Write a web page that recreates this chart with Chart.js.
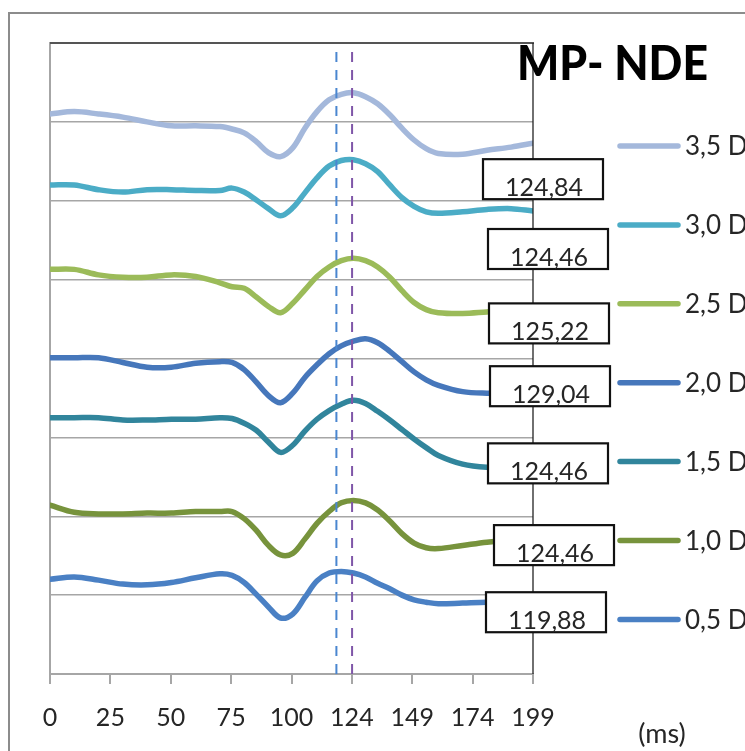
<!DOCTYPE html>
<html><head><meta charset="utf-8">
<script src="https://cdn.jsdelivr.net/npm/chart.js@4.4.1/dist/chart.umd.min.js"></script>
<style>html,body{margin:0;padding:0;background:#fff;overflow:hidden}</style>
</head><body>
<canvas id="c" width="745" height="751"></canvas>
<script>
// ---- data ----
const timeMs = [0,10,20,30,40,50,60,70,75,80,85,90,95,100,105,110,115,120,125,130,135,140,145,150,155,160,170,180,190,199];
const seriesLabels = ['3,5 D','3,0 D','2,5 D','2,0 D','1,5 D','1,0 D','0,5 D'];
const d35 = [7.10,7.13,7.10,7.06,7.00,6.95,6.95,6.94,6.91,6.86,6.75,6.61,6.56,6.67,6.92,7.13,7.28,7.35,7.37,7.32,7.23,7.09,6.92,6.77,6.66,6.60,6.59,6.64,6.68,6.73];
const d30 = [6.20,6.20,6.14,6.11,6.14,6.14,6.13,6.13,6.16,6.11,6.01,5.90,5.81,5.91,6.10,6.29,6.44,6.51,6.52,6.47,6.37,6.20,6.04,5.93,5.86,5.84,5.86,5.89,5.90,5.87];
const d25 = [5.13,5.13,5.06,5.03,5.03,5.06,5.04,4.96,4.91,4.89,4.78,4.66,4.58,4.70,4.87,5.04,5.16,5.24,5.27,5.24,5.16,5.03,4.86,4.71,4.62,4.58,4.57,4.59,4.61,4.61];
const d20 = [4.01,4.01,4.01,3.95,3.89,3.89,3.94,3.96,3.95,3.86,3.70,3.53,3.44,3.56,3.76,3.92,4.06,4.16,4.22,4.25,4.20,4.09,3.96,3.83,3.73,3.66,3.58,3.56,3.56,3.56];
const d15 = [3.25,3.25,3.25,3.22,3.22,3.23,3.23,3.25,3.24,3.18,3.09,2.94,2.81,2.90,3.08,3.23,3.34,3.42,3.47,3.43,3.33,3.22,3.10,2.98,2.87,2.77,2.66,2.62,2.62,2.62];
const d10 = [2.14,2.05,2.03,2.03,2.04,2.04,2.06,2.06,2.06,1.97,1.82,1.63,1.51,1.53,1.71,1.91,2.06,2.17,2.20,2.17,2.08,1.94,1.78,1.66,1.60,1.59,1.63,1.67,1.70,1.71];
const d05 = [1.20,1.23,1.19,1.14,1.13,1.16,1.22,1.27,1.25,1.16,1.01,0.85,0.71,0.76,0.97,1.18,1.28,1.30,1.28,1.23,1.15,1.08,1.00,0.94,0.91,0.89,0.90,0.91,0.91,0.91];
const peakLabels = ['124,84','124,46','125,22','129,04','124,46','124,46','119,88'];
const refLines = [118, 124.46];
const tickLabels = ['0','25','50','75','100','124','149','174','199'];
const yLevels = 8;
const titleText = 'MP- NDE';
const unitText = '(ms)';

// ---- styles ----
const seriesValues = [d35,d30,d25,d20,d15,d10,d05];
const seriesColors = ['#a4b8db','#4bacc6','#9bbb59','#4677bb','#31859c','#77933c','#4a80c4'];
const refColors = ['#4a86d0','#7f56a8'];
const boxOffsets = [[10,36],[15,38],[16,13],[17,-7],[15,-4],[21,6],[13,10]];
const xMax = timeMs[timeMs.length-1];

const datasets = [];
refLines.forEach((v,i)=>{
  datasets.push({label:'ref'+i, data:[{x:v,y:0},{x:v,y:yLevels}], borderColor:refColors[i], borderWidth:2,
    borderDash:[10,8], pointRadius:0, tension:0, order:-1});
});
seriesValues.forEach((vals,i)=>{
  datasets.push({label:seriesLabels[i], data:vals.map((v,k)=>({x:timeMs[k], y:v})), borderColor:seriesColors[i],
    borderWidth:5.5, pointRadius:0, tension:0.35, borderCapStyle:'round', borderJoinStyle:'round', fill:false});
});

const decor = {
  id:'decor',
  beforeDraw(chart){
    const ctx = chart.ctx;
    ctx.save();
    ctx.fillStyle = '#fff';
    ctx.fillRect(0,0,chart.width,chart.height);
    ctx.strokeStyle = '#8c8c8c'; ctx.lineWidth = 2;
    ctx.beginPath(); ctx.moveTo(9, chart.height+5); ctx.lineTo(9, 13); ctx.lineTo(chart.width+5, 13); ctx.stroke();
    ctx.restore();
  },
  afterDraw(chart){
    const {ctx, chartArea:a, scales:{x, y}} = chart;
    ctx.save();
    ctx.strokeStyle = '#555'; ctx.lineWidth = 2;
    ctx.beginPath(); ctx.moveTo(a.left, a.top); ctx.lineTo(a.right+1, a.top); ctx.stroke();
    ctx.strokeStyle = '#222'; ctx.lineWidth = 1.3;
    ctx.beginPath(); ctx.moveTo(a.right, a.top); ctx.lineTo(a.right, a.bottom); ctx.stroke();
    // title
    ctx.fillStyle = '#000'; ctx.font = '900 48px Lato'; ctx.textAlign = 'left'; ctx.textBaseline = 'alphabetic';
    ctx.fillText(titleText, 517, 80, 191);
    // legend
    const legTop = 146, legGap = 78.9;
    seriesLabels.forEach((lab,i)=>{
      const ly = legTop + i*legGap;
      ctx.strokeStyle = seriesColors[i]; ctx.lineWidth = 5.5; ctx.lineCap = 'round';
      ctx.beginPath(); ctx.moveTo(620, ly); ctx.lineTo(678, ly); ctx.stroke();
      ctx.fillStyle = '#262626'; ctx.font = '26px Lato'; ctx.textAlign = 'left'; ctx.textBaseline = 'middle';
      ctx.fillText(lab, 685, ly+1);
    });
    // unit
    ctx.fillStyle = '#262626'; ctx.font = '27px Lato'; ctx.textAlign = 'center'; ctx.textBaseline = 'middle';
    ctx.fillText(unitText, 662, 734);
    // data label boxes
    seriesValues.forEach((vals,i)=>{
      const px = x.getPixelForValue(xMax), py = y.getPixelForValue(vals[vals.length-1]);
      const cx = px + boxOffsets[i][0], cy = py + boxOffsets[i][1];
      const w = 120, h = 40;
      ctx.fillStyle = '#fff'; ctx.fillRect(cx-w/2, cy-h/2, w, h);
      ctx.strokeStyle = '#111'; ctx.lineWidth = 2.2; ctx.lineCap='butt'; ctx.strokeRect(cx-w/2, cy-h/2, w, h);
      ctx.fillStyle = '#262626'; ctx.font = '25px Lato'; ctx.textAlign = 'center'; ctx.textBaseline = 'alphabetic';
      ctx.fillText(peakLabels[i], cx+1, cy+h/2-3);
    });
    ctx.restore();
  }
};

new Chart(document.getElementById('c'), {
  type:'line',
  data:{datasets},
  options:{
    responsive:false, animation:false, devicePixelRatio:1,
    layout:{padding:{left:50, top:43, right:212, bottom:0}},
    plugins:{legend:{display:false}, tooltip:{enabled:false}},
    scales:{
      x:{type:'linear', min:0, max:xMax,
        afterBuildTicks(s){ s.ticks = tickLabels.map((t,i)=>({value: i*xMax/(tickLabels.length-1)})); },
        afterFit(s){ s.height = 77; },
        ticks:{callback:(v,i)=>tickLabels[i], color:'#262626', font:{family:'Lato', size:25}, padding:19, maxRotation:0, autoSkip:false},
        grid:{drawOnChartArea:false, drawTicks:true, tickLength:10, color:'#a6a6a6', lineWidth:2},
        border:{display:true, color:'#a6a6a6', width:2}
      },
      y:{type:'linear', min:0, max:yLevels,
        afterFit(s){ s.width = 0; },
        ticks:{display:false, stepSize:1},
        grid:{color:'#a6a6a6', lineWidth:1.5, drawTicks:false},
        border:{display:true, color:'#a6a6a6', width:2}
      }
    }
  },
  plugins:[decor]
});
</script>
</body></html>
